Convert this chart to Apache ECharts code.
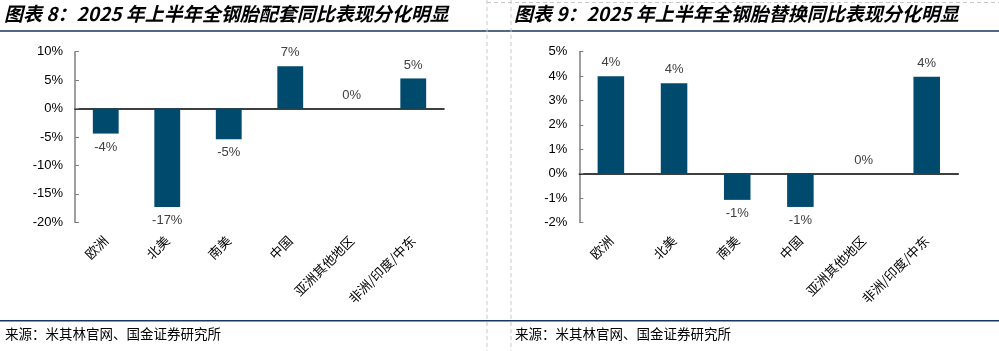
<!DOCTYPE html>
<html>
<head>
<meta charset="utf-8">
<script src="https://cdn.jsdelivr.net/npm/echarts@6/dist/echarts.min.js"></script>
<style>
  html, body { margin: 0; padding: 0; background: #fff; }
  #chart { width: 999px; height: 351px; }
</style>
</head>
<body>
<div id="chart"></div>
<script>
// data (YoY %, H1 2025)
const regions = ["欧洲", "北美", "南美", "中国", "亚洲其他地区", "非洲/印度/中东"];
const oeYoY = [-4.4, -17.3, -5.4, 7.45, 0, 5.3];        // 配套
const replYoY = [3.99, 3.71, -1.08, -1.37, 0, 3.97];   // 替换
const oeAxis = [-20, 10, 5];     // min, max, interval
const replAxis = [-2, 5, 1];
const titles = [
  "图表 8：2025 年上半年全钢胎配套同比表现分化明显",
  "图表 9：2025 年上半年全钢胎替换同比表现分化明显"
];
const sourceText = "来源：米其林官网、国金证券研究所";

const barColor = "#004A6E";
const cjk = "'Noto Sans CJK SC', sans-serif";
const latin = "'Liberation Sans', Arial, sans-serif";

const chart = echarts.init(document.getElementById("chart"));

// bars with labels below for negatives, above otherwise
function barData(values) {
  return values.map((v) => ({
    value: v,
    label: { position: v < 0 ? "bottom" : "top" },
  }));
}

function yAxisFor(range, gridIndex) {
  return {
    type: "value",
    gridIndex: gridIndex,
    min: range[0],
    max: range[1],
    interval: range[2],
    splitLine: { show: false },
    axisLine: { show: true, lineStyle: { color: "#7f7f7f", width: 1.5 } },
    axisTick: { show: true, inside: true, length: 4, lineStyle: { color: "#7f7f7f" } },
    axisLabel: {
      formatter: "{value}%",
      color: "#000",
      fontFamily: latin,
      fontSize: 13,
      margin: 12,
    },
  };
}

// x axis pair: one sits on the zero line, one carries the rotated labels
function xAxesFor(gridIndex) {
  return [
    {
      type: "category",
      gridIndex: gridIndex,
      data: regions,
      position: "bottom",
      axisLine: { onZero: true, lineStyle: { color: "#000", width: 1.5 } },
      axisTick: { inside: true, length: 4, lineStyle: { color: "#7f7f7f", width: 1.5 } },
      axisLabel: { show: false },
    },
    {
      type: "category",
      gridIndex: gridIndex,
      data: regions,
      position: "bottom",
      axisLine: { show: false, onZero: false },
      axisTick: { show: false },
      axisLabel: {
        rotate: 45,
        interval: 0,
        margin: 16,
        color: "#000",
        fontFamily: cjk,
        fontSize: 13,
      },
    },
  ];
}

function barSeries(values, xIdx, yIdx) {
  return {
    type: "bar",
    xAxisIndex: xIdx,
    yAxisIndex: yIdx,
    data: barData(values),
    barWidth: "42%",
    itemStyle: { color: barColor },
    label: {
      show: true,
      distance: 7,
      color: "#404040",
      fontFamily: latin,
      fontSize: 13,
      formatter: (p) => Math.round(p.value) + "%",
    },
    animation: false,
  };
}

const titleStyle = {
  fontFamily: cjk,
  fontSize: 19,
  fontWeight: "bold",
  fontStyle: "italic",
  color: "#000",
};
const sourceStyle = { fontFamily: cjk, fontSize: 13.5, fontWeight: "normal", color: "#000" };

const option = {
  animation: false,
  backgroundColor: "#fff",
  title: [
    { text: titles[0], left: 4, top: 4, padding: 0, textStyle: titleStyle },
    { text: titles[1], left: 514, top: 4, padding: 0, textStyle: titleStyle },
    { text: sourceText, left: 5, top: 327, padding: 0, textStyle: sourceStyle },
    { text: sourceText, left: 515, top: 327, padding: 0, textStyle: sourceStyle },
  ],
  grid: [
    { left: 75, top: 51.7, width: 369, height: 170.6 },
    { left: 579.3, top: 51.7, width: 379, height: 170.6 },
  ],
  xAxis: [...xAxesFor(0), ...xAxesFor(1)],
  yAxis: [yAxisFor(oeAxis, 0), yAxisFor(replAxis, 1)],
  series: [barSeries(oeYoY, 0, 0), barSeries(replYoY, 2, 1)],
  graphic: [
    // header / footer rules
    { type: "line", shape: { x1: 0, y1: 31, x2: 999, y2: 31 }, style: { stroke: "#17375E", lineWidth: 1.5 } },
    { type: "line", shape: { x1: 0, y1: 320.7, x2: 999, y2: 320.7 }, style: { stroke: "#17375E", lineWidth: 1.5 } },
    // dashed panel frames
    { type: "line", shape: { x1: 487, y1: 0, x2: 487, y2: 351 }, style: { stroke: "#c8c8c8", lineWidth: 1, lineDash: [4, 3] } },
    { type: "line", shape: { x1: 511, y1: 0, x2: 511, y2: 351 }, style: { stroke: "#c8c8c8", lineWidth: 1, lineDash: [4, 3] } },
    { type: "line", shape: { x1: 487, y1: 2.5, x2: 999, y2: 2.5 }, style: { stroke: "#c8c8c8", lineWidth: 1, lineDash: [4, 3] } },
  ],
};

chart.setOption(option);
</script>
</body>
</html>
